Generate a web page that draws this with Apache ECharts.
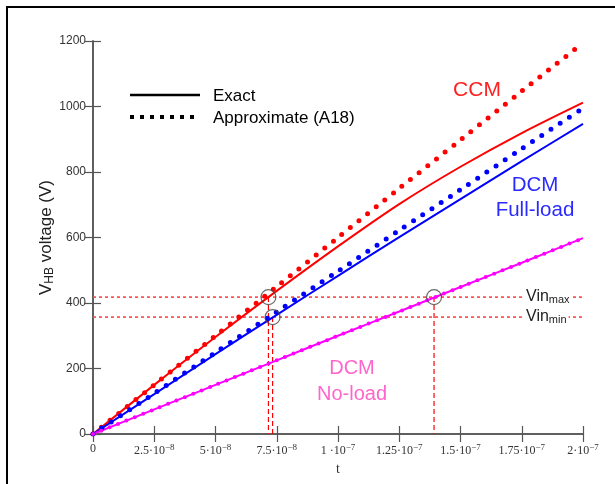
<!DOCTYPE html>
<html><head><meta charset="utf-8">
<script src="https://cdn.jsdelivr.net/npm/echarts@6/dist/echarts.min.js"></script>
<style>html,body{margin:0;padding:0;background:#fff}#c{width:615px;height:484px}</style>
</head><body><div id="c"></div>
<script>
// time in ns (axis labels shown in seconds)
const tNs = [0, 25, 50, 75, 100, 125, 150, 175, 200];
const ccmExact       = [0, 150, 296, 437, 573, 702, 816, 919, 1012];
const ccmApprox      = [0, 150, 300, 450, 600, 750, 898, 1047, 1194];
const dcmFullExact   = [0, 122, 244, 364, 483, 601, 717, 833, 947];
const dcmFullApprox  = [0, 124, 249, 373, 497, 622, 746, 871, 995];
const dcmNoExact     = [0, 75, 150, 225, 300, 374, 449, 523, 598];
const dcmNoApprox    = [0, 75, 150, 225, 300, 374, 449, 523, 598];
const vinMax = 418, vinMin = 357;
const crossT = [71.6, 73.3, 139.2];
const crossV = [418, 357, 418];
const xTickMant = ['0', '2.5·10', '5·10', '7.5·10', '1 ·10', '1.25·10', '1.5·10', '1.75·10', '2·10'];
const xTickExp  = ['', '−8', '−8', '−8', '−7', '−7', '−7', '−7', '−7'];
const yTicks = [0, 200, 400, 600, 800, 1000, 1200];

const pairs = (xs, ys) => xs.map((x, i) => [x, ys[i]]);
const chart = echarts.init(document.getElementById('c'), null, {renderer: 'canvas'});
const axisCol = '#555';
const sans = 'Liberation Sans, Arial, sans-serif';
const serif = 'Liberation Serif, Times New Roman, serif';

const solid = (name, ys, color) => ({
  name, type: 'line', data: pairs(tNs, ys), smooth: 0.3, symbol: 'none',
  lineStyle: {color, width: 2}, itemStyle: {color}, z: 3, silent: true
});
const dotted = (name, ys, color, w, gap) => ({
  name, type: 'line', data: pairs(tNs, ys), smooth: 0.3, symbol: 'none',
  lineStyle: {color, width: w, type: [0, gap], cap: 'round'}, itemStyle: {color}, z: 4, silent: true
});
const dashed = (data, dash, w, color) => ({
  type: 'line', data, symbol: 'none', silent: true,
  itemStyle: {color},
  lineStyle: {color, width: w, type: dash, opacity: 1}, z: 2
});

const option = {
  animation: false,
  backgroundColor: '#fff',
  grid: {left: 93, right: 32, top: 41, bottom: 50},
  xAxis: [{
    type: 'value', min: 0, max: 200, interval: 25,
    name: 't', nameLocation: 'middle', nameGap: 28, nameMoveOverlap: false,
    nameTextStyle: {fontFamily: serif, fontSize: 14, color: '#333'},
    axisLine: {lineStyle: {color: axisCol, width: 1.5}},
    axisTick: {inside: true, length: 8, lineStyle: {color: axisCol, width: 1.2}},
    splitLine: {show: false},
    axisLabel: {
      margin: 9,
      formatter: v => {
        const i = Math.round(v / 25);
        return xTickExp[i] ? '{m|' + xTickMant[i] + '}{e|' + xTickExp[i] + '}' : '{m|' + xTickMant[i] + '}';
      },
      rich: {
        m: {fontFamily: serif, fontSize: 12, color: '#333'},
        e: {fontFamily: serif, fontSize: 9, color: '#333', verticalAlign: 'top', padding: [0, 0, 6, 0]}
      }
    }
  }, {
    type: 'value', min: 0, max: 200, interval: 25, position: 'top',
    axisLine: {show: true, lineStyle: {color: axisCol, width: 1.5}},
    axisTick: {show: true, inside: true, length: 8, lineStyle: {color: axisCol, width: 1.2}},
    axisLabel: {show: false}, splitLine: {show: false}
  }],
  yAxis: [{
    type: 'value', min: 0, max: 1200, interval: 200,
    name: '{a|V}{s|HB}{a| voltage (V)}', nameLocation: 'middle', nameGap: 37, nameRotate: 90,
    nameMoveOverlap: false,
    nameTextStyle: {rich: {
      a: {fontFamily: sans, fontSize: 17, color: '#222'},
      s: {fontFamily: sans, fontSize: 12, color: '#222', verticalAlign: 'bottom', padding: [8, 0, 0, 0]}
    }},
    axisLine: {show: true, lineStyle: {color: axisCol, width: 1.5}},
    axisTick: {show: true, inside: true, length: 8, lineStyle: {color: axisCol, width: 1.2}},
    splitLine: {show: false},
    axisLabel: {margin: 7, fontFamily: sans, fontSize: 12, color: '#333',
      formatter: v => String(yTicks[Math.round(v / 200)])}
  }, {
    type: 'value', min: 0, max: 1200, interval: 200, position: 'right',
    axisLine: {show: true, lineStyle: {color: axisCol, width: 1.5}},
    axisTick: {show: true, inside: true, length: 8, lineStyle: {color: axisCol, width: 1.2}},
    axisLabel: {show: false}, splitLine: {show: false}
  }],
  series: [
    dashed([[0, vinMax], [200, vinMax]], [3, 3], 1.6, '#ff4444'),
    dashed([[0, vinMin], [200, vinMin]], [3, 3], 1.6, '#ff4444'),
    dashed([[crossT[0], crossV[0]], [crossT[0], 0]], [5, 3], 1.2, '#ff0000'),
    dashed([[crossT[1], crossV[1]], [crossT[1], 0]], [5, 3], 1.2, '#ff0000'),
    dashed([[crossT[2], crossV[2]], [crossT[2], 0]], [5, 3], 1.2, '#ff0000'),
    solid('CCM exact', ccmExact, '#ff0000'),
    solid('DCM full-load exact', dcmFullExact, '#0000ff'),
    solid('DCM no-load exact', dcmNoExact, '#ff00ff'),
    dotted('CCM approx', ccmApprox, '#ff0000', 5, 11),
    dotted('DCM full-load approx', dcmFullApprox, '#0000ff', 5, 11),
    dotted('DCM no-load approx', dcmNoApprox, '#ff00ff', 4, 9),
    {
      type: 'scatter', data: pairs(crossT, crossV), symbol: 'circle', symbolSize: 15, z: 6, silent: true,
      itemStyle: {color: 'rgba(0,0,0,0)', borderColor: '#444', borderWidth: 1.2}
    }
  ],
  graphic: [
    {type: 'rect', shape: {x: 7, y: 7, width: 700, height: 600}, style: {fill: null, stroke: '#000', lineWidth: 2}, silent: true},
    {type: 'line', shape: {x1: 130, y1: 95, x2: 200, y2: 95}, style: {stroke: '#000', lineWidth: 2.5}},
    {type: 'line', shape: {x1: 130, y1: 117, x2: 200, y2: 117}, style: {stroke: '#000', lineWidth: 4, lineDash: [4, 6]}},
    {type: 'text', x: 213, y: 96, style: {text: 'Exact', font: '17px ' + sans, fill: '#000', verticalAlign: 'middle'}},
    {type: 'text', x: 213, y: 118, style: {text: 'Approximate (A18)', font: '17px ' + sans, fill: '#000', verticalAlign: 'middle'}},
    {type: 'text', x: 477, y: 90, style: {text: 'CCM', font: '21px ' + sans, fill: '#ff2020', align: 'center', verticalAlign: 'middle'}},
    {type: 'text', x: 535, y: 185, style: {text: 'DCM', font: '20.5px ' + sans, fill: '#2a2aff', align: 'center', verticalAlign: 'middle'}},
    {type: 'text', x: 535, y: 210, style: {text: 'Full-load', font: '20.5px ' + sans, fill: '#2a2aff', align: 'center', verticalAlign: 'middle'}},
    {type: 'text', x: 352, y: 368, style: {text: 'DCM', font: '20px ' + sans, fill: '#ff66cc', align: 'center', verticalAlign: 'middle'}},
    {type: 'text', x: 352, y: 394, style: {text: 'No-load', font: '20px ' + sans, fill: '#ff66cc', align: 'center', verticalAlign: 'middle'}},
    {type: 'text', x: 525, y: 297, z: 10, style: {
      text: '{a|Vin}{s|max}', backgroundColor: '#fff', verticalAlign: 'middle', padding: [0, 2, 0, 1],
      rich: {a: {font: '16px ' + sans, fill: '#222'}, s: {font: '11px ' + sans, fill: '#222', verticalAlign: 'bottom', padding: [6, 0, 0, 0]}}
    }},
    {type: 'text', x: 525, y: 317, z: 10, style: {
      text: '{a|Vin}{s|min}', backgroundColor: '#fff', verticalAlign: 'middle', padding: [0, 2, 0, 1],
      rich: {a: {font: '16px ' + sans, fill: '#222'}, s: {font: '11px ' + sans, fill: '#222', verticalAlign: 'bottom', padding: [6, 0, 0, 0]}}
    }}
  ]
};
chart.setOption(option);
</script></body></html>
